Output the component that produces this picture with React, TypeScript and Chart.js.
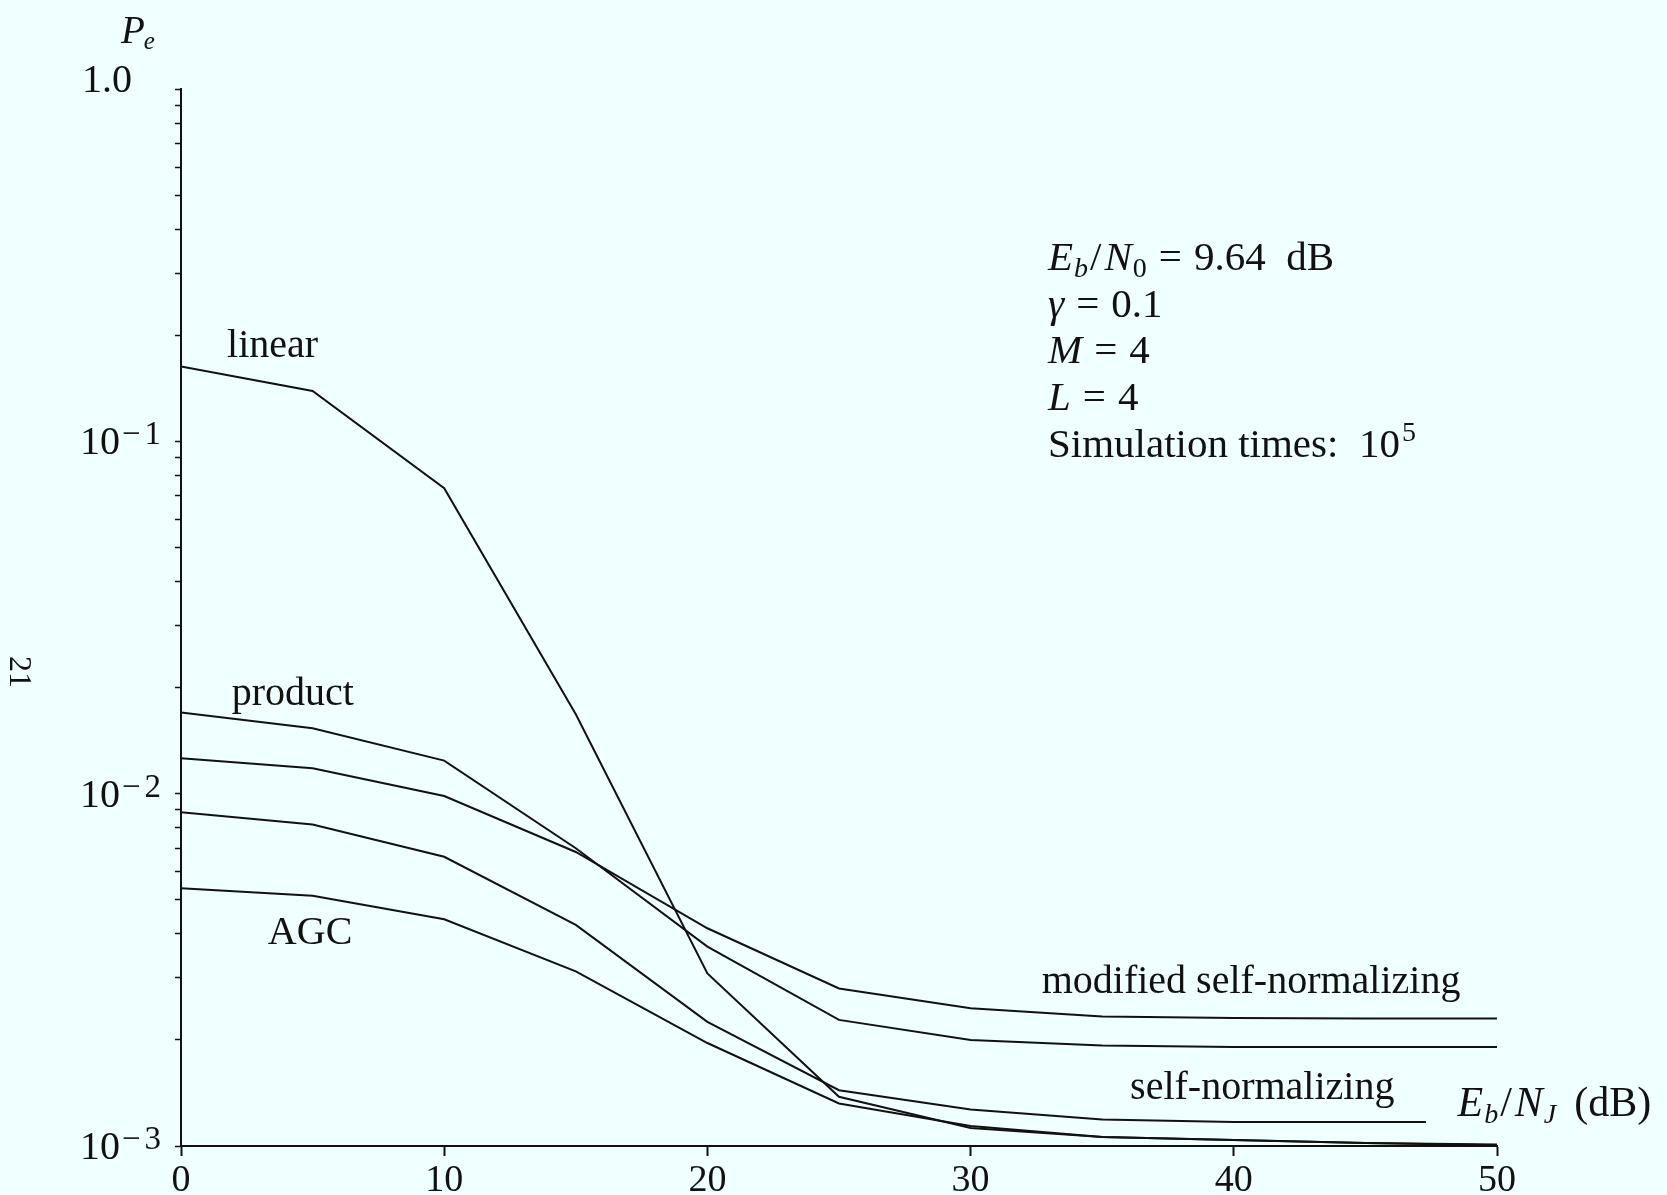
import React, { useEffect, useRef } from 'react';
import { Chart, registerables } from 'chart.js';

Chart.register(...registerables);

// ---- data ----
const xValues = [0, 5, 10, 15, 20, 25, 30, 35, 40, 45, 50];
const linearPe = [0.163, 0.139, 0.0736, 0.0168, 0.00309, 0.00138, 0.001125, 0.00106, 0.00104, 0.00102, 0.001005];
const productPe = [0.017, 0.01533, 0.01241, 0.007, 0.00368, 0.00228, 0.002, 0.00193, 0.00191, 0.00191, 0.00191];
const modifiedSelfNormPe = [0.0126, 0.0118, 0.00985, 0.00683, 0.00415, 0.0028, 0.00246, 0.00233, 0.00231, 0.0023, 0.0023];
const selfNormXValues = [0, 5, 10, 15, 20, 25, 30, 35, 40, 45, 47.3];
const selfNormPe = [0.00886, 0.00818, 0.00662, 0.00424, 0.00225, 0.00144, 0.00127, 0.00119, 0.00117, 0.00117, 0.00117];
const agcPe = [0.00539, 0.00513, 0.0044, 0.00313, 0.00196, 0.00132, 0.00114, 0.00106, 0.00104, 0.00102, 0.00101];

const xTickValues = [0, 10, 20, 30, 40, 50];
const yDecades = [0.001, 0.01, 0.1, 1];
const yMinorMultipliers = [2, 3, 4, 5, 6, 7, 8, 9];

const curveLabels = [
  { text: 'linear', x: 1.75, y: 0.1736 },
  { text: 'product', x: 1.93, y: 0.01786 },
  { text: 'AGC', x: 3.3, y: 0.003744 },
  { text: 'modified self-normalizing', x: 32.7, y: 0.002713 },
  { text: 'self-normalizing', x: 36.06, y: 0.00136 },
];

const SERIF = '"Liberation Serif", "Times New Roman", serif';
const INK = '#111111';
const BG = '#F0FFFF';

type Seg = { t: string; italic?: boolean; size?: number; dy?: number; kern?: number };

function drawRich(ctx: CanvasRenderingContext2D, x: number, y: number, segs: Seg[], base: number) {
  let cx = x;
  for (const s of segs) {
    const size = s.size ?? base;
    ctx.font = `${s.italic ? 'italic ' : ''}${size}px ${SERIF}`;
    ctx.fillText(s.t, cx, y + (s.dy ?? 0));
    cx += ctx.measureText(s.t).width + (s.kern ?? 0);
  }
}

const bgPlugin = {
  id: 'bgFill',
  beforeDraw(chart: any) {
    const { ctx, width, height } = chart;
    ctx.save();
    ctx.fillStyle = BG;
    ctx.fillRect(0, 0, width, height);
    ctx.restore();
  },
};

const textPlugin = {
  id: 'texts',
  afterDraw(chart: any) {
    const ctx: CanvasRenderingContext2D = chart.ctx;
    const xs = chart.scales.x;
    const ys = chart.scales.y;
    const area = chart.chartArea;
    ctx.save();
    ctx.fillStyle = INK;
    ctx.textBaseline = 'alphabetic';
    ctx.textAlign = 'left';

    // y-axis tick labels with superscripts
    for (const d of yDecades) {
      const py = ys.getPixelForValue(d);
      if (d === 1) {
        ctx.font = `40px ${SERIF}`;
        ctx.fillText('1.0', area.left - 99, py + 3);
      } else {
        const e = Math.round(Math.log10(d));
        ctx.font = `40px ${SERIF}`;
        ctx.fillText('10', area.left - 101, py + 13);
        const w = ctx.measureText('10').width;
        drawRich(ctx, area.left - 101 + w + 2, py + 3, [
          { t: '\u2212', kern: 4 },
          { t: String(-e) },
        ], 33);
      }
    }

    // y-axis title P_e
    drawRich(ctx, area.left - 60, area.top - 46, [
      { t: 'P', italic: true, kern: -1 },
      { t: 'e', italic: true, size: 25, dy: 6 },
    ], 39);

    // curve labels
    ctx.font = `40px ${SERIF}`;
    for (const l of curveLabels) {
      ctx.fillText(l.text, xs.getPixelForValue(l.x), ys.getPixelForValue(l.y));
    }

    // x-axis title
    drawRich(ctx, xs.getPixelForValue(48.5), ys.getPixelForValue(0.001217), [
      { t: 'E', italic: true, kern: 1 },
      { t: 'b', italic: true, size: 28, dy: 7, kern: 2 },
      { t: '/', kern: 3 },
      { t: 'N', italic: true, kern: 1 },
      { t: 'J', italic: true, size: 28, dy: 7, kern: 18 },
      { t: '(dB)' },
    ], 42);

    // parameter box
    const bx = xs.getPixelForValue(32.94);
    const by = ys.getPixelForValue(0.3066);
    const lh = 46.7;
    const eq = (lhs: Seg[], rhs: string): Seg[] => [
      ...lhs.slice(0, -1),
      { ...lhs[lhs.length - 1], kern: 12 },
      { t: '=', kern: 12 },
      { t: rhs },
    ];
    drawRich(ctx, bx, by, eq([
      { t: 'E', italic: true, kern: 1 },
      { t: 'b', italic: true, size: 28, dy: 7, kern: 2 },
      { t: '/', kern: 3 },
      { t: 'N', italic: true, kern: 1 },
      { t: '0', size: 28, dy: 7 },
    ], '9.64  dB'), 41);
    drawRich(ctx, bx, by + lh, eq([{ t: '\u03B3', italic: true }], '0.1'), 41);
    drawRich(ctx, bx, by + 2 * lh, eq([{ t: 'M', italic: true }], '4'), 41);
    drawRich(ctx, bx, by + 3 * lh, eq([{ t: 'L', italic: true }], '4'), 41);
    drawRich(ctx, bx, by + 4 * lh, [{ t: 'Simulation times:  10', kern: 2 }, { t: '5', size: 28, dy: -16 }], 41);

    // page number (rotated)
    ctx.save();
    ctx.translate(10, 656);
    ctx.rotate(Math.PI / 2);
    ctx.font = `32px ${SERIF}`;
    ctx.fillText('21', 0, 0);
    ctx.restore();

    ctx.restore();
  },
};

export default function App() {
  const canvasRef = useRef<HTMLCanvasElement | null>(null);

  useEffect(() => {
    const canvas = canvasRef.current;
    if (!canvas) return;
    const toPoints = (xsArr: number[], ysArr: number[]) => xsArr.map((x, i) => ({ x, y: ysArr[i] }));
    const lineStyle = {
      borderColor: INK,
      borderWidth: 2,
      pointRadius: 0,
      tension: 0,
      fill: false,
    };
    const yTicks: number[] = [];
    yDecades.forEach((d, i) => {
      yTicks.push(d);
      if (i < yDecades.length - 1) yMinorMultipliers.forEach((m) => yTicks.push(m * d));
    });

    const chart = new Chart(canvas, {
      type: 'line',
      data: {
        datasets: [
          { label: 'linear', data: toPoints(xValues, linearPe), ...lineStyle },
          { label: 'product', data: toPoints(xValues, productPe), ...lineStyle },
          { label: 'modified self-normalizing', data: toPoints(xValues, modifiedSelfNormPe), ...lineStyle },
          { label: 'self-normalizing', data: toPoints(selfNormXValues, selfNormPe), ...lineStyle },
          { label: 'AGC', data: toPoints(xValues, agcPe), ...lineStyle },
        ],
      },
      options: {
        animation: false,
        responsive: false,
        maintainAspectRatio: false,
        layout: { padding: { left: 0, top: 89, right: 170, bottom: 0 } },
        plugins: { legend: { display: false }, tooltip: { enabled: false } },
        scales: {
          x: {
            type: 'linear',
            min: 0,
            max: 50,
            afterBuildTicks: (s: any) => {
              s.ticks = xTickValues.map((v) => ({ value: v }));
            },
            afterFit: (s: any) => {
              s.height = 49;
            },
            ticks: {
              color: INK,
              font: { family: SERIF, size: 38 },
              padding: 2,
              maxRotation: 0,
              autoSkip: false,
            },
            grid: {
              display: true,
              drawOnChartArea: false,
              drawTicks: true,
              tickLength: 10,
              color: INK,
              tickWidth: 2,
            },
            border: { display: true, color: INK, width: 2 },
          },
          y: {
            type: 'logarithmic',
            min: 0.001,
            max: 1,
            afterBuildTicks: (s: any) => {
              s.ticks = yTicks.map((v) => ({ value: v, major: yDecades.includes(v) }));
            },
            afterFit: (s: any) => {
              s.width = 181;
            },
            ticks: { display: false, autoSkip: false },
            grid: {
              display: true,
              drawOnChartArea: false,
              drawTicks: true,
              tickLength: 6,
              color: INK,
              tickWidth: 1.5,
            },
            border: { display: true, color: INK, width: 2 },
          },
        },
      },
      plugins: [bgPlugin, textPlugin],
    } as any);

    return () => chart.destroy();
  }, []);

  return (
    <div style={{ position: 'absolute', left: 0, top: 0, width: 1667, height: 1195, background: BG }}>
      <canvas ref={canvasRef} width={1667} height={1195} style={{ display: 'block', width: 1667, height: 1195 }} />
    </div>
  );
}
